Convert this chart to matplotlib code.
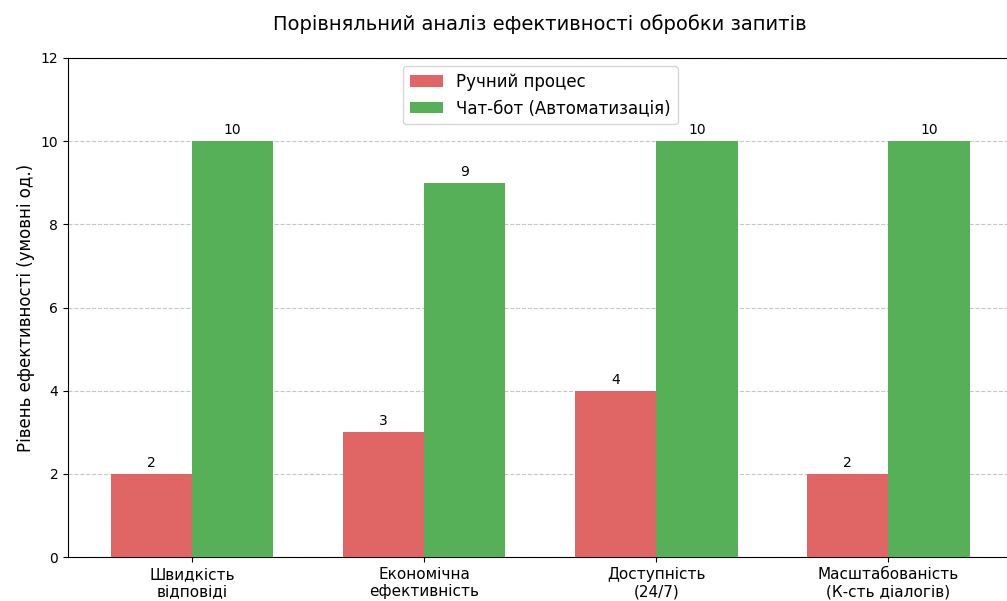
import matplotlib.pyplot as plt
import numpy as np

categories = ['Швидкість\nвідповіді', 'Економічна\nефективність', 'Доступність\n(24/7)', 'Масштабованість\n(К-сть діалогів)']
manual = [2, 3, 4, 2]
chatbot = [10, 9, 10, 10]

x = np.arange(len(categories))
w = 0.35

fig = plt.figure(figsize=(10.07, 6.01), dpi=100)
ax = fig.add_axes([0.0675, 0.0732, 0.938, 0.8303])

b1 = ax.bar(x - w/2, manual, w, color='#E06666', label='Ручний процес', zorder=3)
b2 = ax.bar(x + w/2, chatbot, w, color='#56B057', label='Чат-бот (Автоматизація)', zorder=3)

for bars in (b1, b2):
    for b in bars:
        h = b.get_height()
        ax.annotate(f'{h:g}', (b.get_x() + b.get_width()/2, h), xytext=(0, 3),
                    textcoords='offset points', ha='center', va='bottom', fontsize=10)

ax.set_title('Порівняльний аналіз ефективності обробки запитів', fontsize=14, pad=20)
ax.set_ylabel('Рівень ефективності (умовні од.)', fontsize=12)
ax.set_xticks(x)
ax.set_xticklabels(categories, fontsize=11)
ax.set_ylim(0, 12)
ax.grid(axis='y', linestyle='--', alpha=0.7, zorder=0)
ax.legend(loc='upper center', fontsize=12)

plt.savefig('out.png', dpi=100)
